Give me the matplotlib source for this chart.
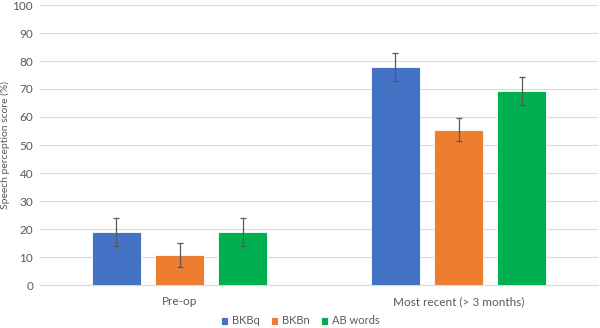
import numpy as np
import matplotlib
matplotlib.use("Agg")
import matplotlib.pyplot as plt

plt.rcParams["font.family"] = ["Lato", "DejaVu Sans"]

categories = ["Pre-op", "Most recent (> 3 months)"]
series = ["BKBq", "BKBn", "AB words"]
colors = ["#4472C4", "#ED7D31", "#00B050"]
values = {
    "BKBq": [19.1, 77.8],
    "BKBn": [10.8, 55.5],
    "AB words": [18.8, 69.3],
}
errors = {
    "BKBq": [5.0, 5.0],
    "BKBn": [4.2, 4.2],
    "AB words": [5.0, 4.9],
}

fig = plt.figure(figsize=(6.0, 3.28), dpi=100)
ax = fig.add_axes([40 / 600, 1 - 285 / 328, 558 / 600, 280 / 328])

x = np.arange(len(categories))
width = 0.176
step = 0.226
txt = "#595959"

for i, s in enumerate(series):
    ax.bar(x + (i - 1) * step, values[s], width, color=colors[i],
           edgecolor="white", linewidth=0.6, zorder=3, label=s,
           yerr=errors[s], error_kw=dict(ecolor="#595959", elinewidth=0.9,
                                          capsize=2, capthick=0.9, zorder=4))

ax.set_xlim(-0.5, 1.5)
ax.set_ylim(0, 100)
ax.set_yticks(range(0, 101, 10))
ax.set_xticks(x)
ax.set_xticklabels(categories)
ax.grid(axis="y", color="#D9D9D9", linewidth=0.8, zorder=0)
for sp in ["top", "right", "left"]:
    ax.spines[sp].set_visible(False)
ax.spines["bottom"].set_color("#D9D9D9")
ax.tick_params(axis="both", length=0, colors=txt, labelsize=8.5)
ax.tick_params(axis="y", pad=5)
ax.tick_params(axis="x", pad=8)
ax.set_ylabel("Speech perception score (%)", color=txt, fontsize=7.5,
              labelpad=2)

fig.legend(loc="center", bbox_to_anchor=(0.5, 1 - 321 / 328), ncol=3,
           frameon=False, fontsize=8, handlelength=0.7, handleheight=0.7,
           handletextpad=0.3, columnspacing=1.0, labelcolor=txt)

fig.savefig("out.png", dpi=100)
